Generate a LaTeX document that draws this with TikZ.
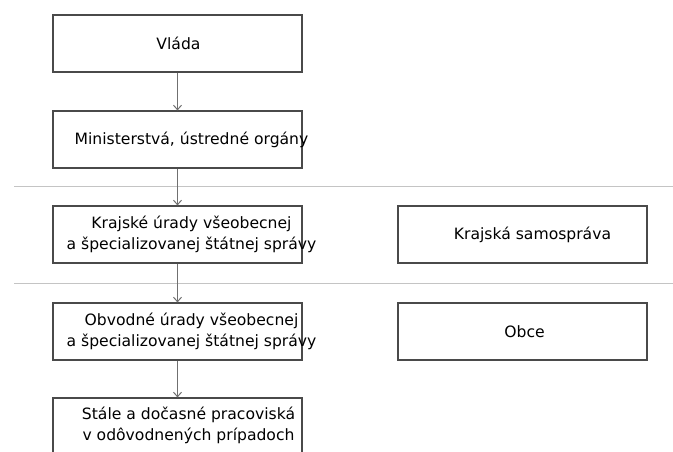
\documentclass[tikz,border=0pt]{standalone}
\usepackage{fontspec}
\setmainfont{DejaVu Sans}
\usetikzlibrary{arrows.meta}
\definecolor{boxline}{HTML}{4A4A4A}
\definecolor{sepline}{HTML}{C4C4C4}
\definecolor{arrline}{HTML}{707070}
\tikzset{
  box/.style={draw=boxline, line width=1.1pt, minimum width=249pt, minimum height=57pt, inner sep=0pt, fill=white},
  lbl/.style={font=\fontsize{15.6}{21}\selectfont, align=center, text=black, inner sep=0pt},
  sep/.style={draw=sepline, line width=0.8pt},
  conn/.style={draw=arrline, line width=1pt, -{Straight Barb[length=4.5pt,width=8pt]}}
}
\begin{document}
\begin{tikzpicture}[x=1pt,y=-1pt]
\useasboundingbox (0,0) rectangle (673,451);
\clip (0,0) rectangle (673,451);
% separators
\coordinate (s1a) at (14,186); \coordinate (s1b) at (673,186);
\coordinate (s2a) at (14,283); \coordinate (s2b) at (673,283);
\draw[sep] (s1a) -- (s1b);
\draw[sep] (s2a) -- (s2b);
% left column
\node[box] (vlada) at (177.5,43.5) {};
\node[box] (min) at (177.5,139.5) {};
\node[box] (kraj) at (177.5,234.5) {};
\node[box] (obv) at (177.5,331.5) {};
\node[box] (stale) at (177.5,426.5) {};
% right column
\node[box] (ksam) at (522.5,234.5) {};
\node[box] (obce) at (522.5,331.5) {};
% labels
\node[lbl] (tvlada) at ([xshift=1pt]vlada.center) {Vláda};
\node[lbl] (tmin) at ([xshift=14pt]min.center) {Ministerstvá, ústredné orgány};
\node[lbl] (tkraj) at ([xshift=14pt]kraj.center) {Krajské úrady všeobecnej\\a špecializovanej štátnej správy};
\node[lbl] (tobv) at ([xshift=14pt]obv.center) {Obvodné úrady všeobecnej\\a špecializovanej štátnej správy};
\node[lbl] (tstale) at ([xshift=11pt,yshift=1pt]stale.center) {Stále a dočasné pracoviská\\v odôvodnených prípadoch};
\node[lbl] (tksam) at ([xshift=10pt]ksam.center) {Krajská samospráva};
\node[lbl] (tobce) at ([xshift=2pt]obce.center) {Obce};
% connectors
\draw[conn] (vlada.south) -- (min.north);
\draw[conn] (min.south) -- (kraj.north);
\draw[conn] (kraj.south) -- (obv.north);
\draw[conn] (obv.south) -- (stale.north);
\end{tikzpicture}
\end{document}
